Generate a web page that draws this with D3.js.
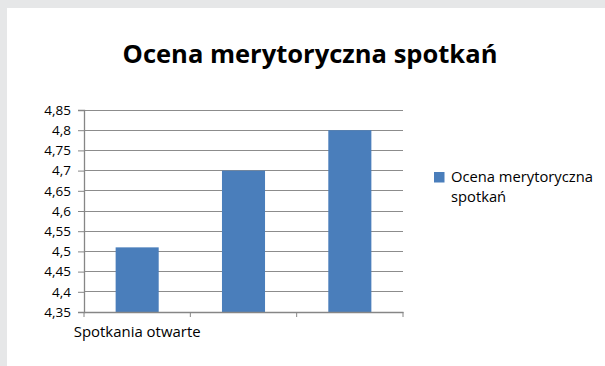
<!DOCTYPE html>
<html><head><meta charset="utf-8">
<script src="https://cdn.jsdelivr.net/npm/d3@7"></script>
<style>body{margin:0;background:#e6e7e8;}svg{display:block;}</style>
</head><body>
<svg id="c" width="605" height="366"></svg>
<script>
const title = "Ocena merytoryczna spotkań";
const categories = ["Spotkania otwarte", "", ""];
const seriesName = "Ocena merytoryczna spotkań";
const values = [4.51, 4.70, 4.80];
const yTicks = [4.35, 4.40, 4.45, 4.50, 4.55, 4.60, 4.65, 4.70, 4.75, 4.80, 4.85];

const svg = d3.select("#c");
const font = "'Open Sans', sans-serif";
svg.append("rect").attr("width",605).attr("height",366).attr("fill","#e6e7e8");
svg.append("rect").attr("x",7).attr("y",8).attr("width",598).attr("height",358).attr("fill","#ffffff");

function fit(sel, target){
  const fs = +sel.attr("font-size");
  const w = sel.node().getComputedTextLength();
  if (w>0) sel.attr("font-size", fs*target/w);
}

const L=84, R=403, T=110, B=312;
const x = d3.scaleBand().domain(d3.range(categories.length)).range([L,R]).padding(0);
const y = d3.scaleLinear().domain([4.35,4.85]).range([B,T]);
const fmt = v => d3.format(".2~f")(v).replace(".", ",");

// gridlines
svg.append("g").selectAll("line").data(yTicks.slice(1)).join("line")
  .attr("x1",L).attr("x2",R).attr("y1",d=>y(d)).attr("y2",d=>y(d))
  .attr("stroke","#8c8c8c").attr("stroke-width",1).attr("shape-rendering","crispEdges");

// bars
const bw = x.bandwidth()*0.405;
svg.append("g").selectAll("rect").data(values).join("rect")
  .attr("x",(d,i)=>x(i)+x.bandwidth()/2-bw/2).attr("width",bw)
  .attr("y",d=>y(d)).attr("height",d=>B-y(d)).attr("fill","#4a7ebb");

// y axis
const ya = svg.append("g").attr("transform",`translate(${L},0)`)
  .call(d3.axisLeft(y).tickValues(yTicks).tickFormat(fmt).tickSize(6).tickPadding(7));
ya.select(".domain").attr("stroke","#868686").attr("stroke-width",1.3);
ya.selectAll(".tick line").attr("stroke","#868686");
ya.selectAll("text").attr("font-family",font).attr("font-size",13.5).attr("fill","#000");

// x axis
const xa = svg.append("g").attr("transform",`translate(0,${B})`)
  .call(d3.axisBottom(x).tickFormat(i=>categories[i]).tickSize(0).tickPadding(14));
xa.select(".domain").attr("stroke","#868686").attr("stroke-width",1.3);
xa.selectAll("text").attr("font-family",font).attr("font-size",14).attr("fill","#000");
xa.selectAll("text").filter(function(){return this.textContent;}).each(function(){fit(d3.select(this),127);});
const edges = d3.range(categories.length+1).map(i=>L+i*x.step());
xa.selectAll(".edge").data(edges).join("line").attr("class","edge")
  .attr("x1",d=>d).attr("x2",d=>d).attr("y1",0).attr("y2",5).attr("stroke","#868686");

// title
const tt = svg.append("text").attr("x",310).attr("y",63).attr("text-anchor","middle")
  .attr("font-family",font).attr("font-weight","bold").attr("font-size",24).text(title);
fit(tt,375);

// legend
svg.append("rect").attr("x",434).attr("y",172).attr("width",10.5).attr("height",10.5).attr("fill","#4a7ebb");
const words = seriesName.split(" ");
const lt = svg.append("text").attr("font-family",font).attr("font-size",15).attr("fill","#000");
const l1 = lt.append("tspan").attr("x",451).attr("y",182).text(words.slice(0,2).join(" "));
lt.append("tspan").attr("x",451).attr("y",202).text(words.slice(2).join(" "));
const w1 = l1.node().getComputedTextLength();
if (w1>0) lt.attr("font-size", 15*142/w1);
</script>
</body></html>
